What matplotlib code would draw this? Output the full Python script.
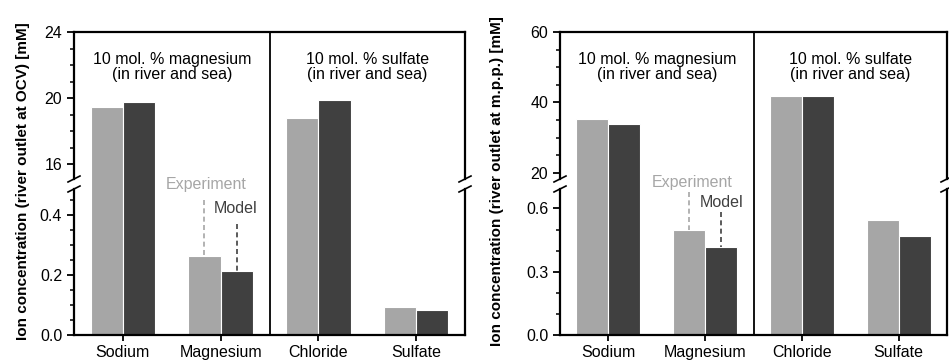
import numpy as np
import matplotlib
matplotlib.use("Agg")
import matplotlib.pyplot as plt
from matplotlib.lines import Line2D
from matplotlib.ticker import FixedLocator

plt.rcParams['font.family'] = ['Liberation Sans', 'DejaVu Sans']

ions = ['Sodium', 'Magnesium', 'Chloride', 'Sulfate']
# left panel: river outlet at OCV
ocv_exp = [19.45, 0.263, 18.79, 0.092]
ocv_model = [19.78, 0.213, 19.88, 0.082]
# right panel: river outlet at m.p.p.
mpp_exp = [35.4, 0.496, 41.7, 0.543]
mpp_model = [33.7, 0.417, 41.9, 0.468]

c_exp = '#a6a6a6'
c_mod = '#404040'
W, H = 949, 363

fig = plt.figure(figsize=(9.49, 3.63), dpi=100)


def px(x0, y0, x1, y1):
    # pixel box (top-left origin) -> figure fraction rect
    return [x0 / W, 1 - y1 / H, (x1 - x0) / W, (y1 - y0) / H]


def panel(xl, xr, exp, mod, top_lim, top_bound, top_major, top_minor,
          low_lim, low_bound, low_major, low_minor, ylabel, ylab_x, annot):
    ax_t = fig.add_axes(px(xl, 32, xr, 184))
    ax_b = fig.add_axes(px(xl, 184, xr, 335))
    x = np.arange(len(ions))
    w = 0.33
    for ax in (ax_t, ax_b):
        ax.bar(x - w / 2, exp, w, color=c_exp, edgecolor='white', linewidth=0.8)
        ax.bar(x + w / 2, mod, w, color=c_mod, edgecolor='white', linewidth=0.8)
        ax.set_xlim(-0.5, 3.5)
        ax.axvline(1.5, color='black', lw=1.3)
        for s in ax.spines.values():
            s.set_linewidth(1.6)
        ax.tick_params(axis='y', which='major', direction='out', length=5,
                       width=1.3, labelsize=11.5)
        ax.tick_params(axis='y', which='minor', direction='out', length=3,
                       width=1.1)
        ax.tick_params(right=False, top=False)
    ax_t.set_ylim(*top_lim)
    ax_t.spines['bottom'].set_visible(False)
    ax_t.spines['left'].set_bounds(top_bound, top_lim[1])
    ax_t.spines['right'].set_bounds(top_bound, top_lim[1])
    ax_t.yaxis.set_major_locator(FixedLocator(top_major))
    ax_t.yaxis.set_minor_locator(FixedLocator(top_minor))
    ax_t.set_xticks([])

    ax_b.set_ylim(*low_lim)
    ax_b.spines['top'].set_visible(False)
    ax_b.spines['left'].set_bounds(low_lim[0], low_bound)
    ax_b.spines['right'].set_bounds(low_lim[0], low_bound)
    ax_b.yaxis.set_major_locator(FixedLocator(low_major))
    ax_b.yaxis.set_minor_locator(FixedLocator(low_minor))
    ax_b.set_yticklabels(['%.1f' % v for v in low_major])
    ax_b.set_xticks(x)
    ax_b.set_xticklabels(ions, fontsize=11.5)
    ax_b.tick_params(axis='x', direction='out', length=4, width=1.3, pad=3)

    # break marks on left and right spines
    for xs in (xl, xr):
        for ys in (179, 189):
            fig.add_artist(Line2D([(xs - 6) / W, (xs + 6) / W],
                                  [1 - (ys + 3) / H, 1 - (ys - 3) / H],
                                  color='black', lw=1.2))

    ty = top_lim[0] + 0.77 * (top_lim[1] - top_lim[0])
    ax_t.text(0.5, ty, '10 mol. % magnesium\n(in river and sea)',
              fontsize=11.5, ha='center', va='center', linespacing=1.0)
    ax_t.text(2.5, ty, '10 mol. % sulfate\n(in river and sea)',
              fontsize=11.5, ha='center', va='center', linespacing=1.0)

    (ex_tx, ex_ty, ex_l0), (mo_tx, mo_ty, mo_l0) = annot
    ax_b.text(ex_tx, ex_ty, 'Experiment', color=c_exp, fontsize=11.5,
              ha='center', va='center')
    ax_b.plot([1 - w / 2] * 2, [ex_l0, exp[1]], ls=(0, (3, 2)), color=c_exp, lw=1.2)
    ax_b.text(mo_tx, mo_ty, 'Model', color=c_mod, fontsize=11.5,
              ha='center', va='center')
    ax_b.plot([1 + w / 2] * 2, [mo_l0, mod[1]], ls=(0, (3, 2)), color=c_mod, lw=1.2)

    fig.text(ylab_x / W, 1 - 181 / H, ylabel, rotation=90, fontsize=11,
             fontweight='bold', ha='center', va='center')


panel(74, 465, ocv_exp, ocv_model,
      (14.79, 24), 15.09, [16, 20, 24], [17, 18, 19, 21, 22, 23],
      (0, 0.503), 0.487, [0.0, 0.2, 0.4],
      [0.05, 0.1, 0.15, 0.25, 0.3, 0.35, 0.45],
      'Ion concentration (river outlet at OCV) [mM]', 23,
      ((0.856, 0.50, 0.45), (1.154, 0.42, 0.37)))

panel(560, 947, mpp_exp, mpp_model,
      (16.78, 60), 18.2, [20, 40, 60], [25, 30, 35, 45, 50, 55],
      (0, 0.716), 0.692, [0.0, 0.3, 0.6], [0.1, 0.2, 0.4, 0.5],
      'Ion concentration (river outlet at m.p.p.) [mM]', 497,
      ((0.864, 0.725, 0.678), (1.17, 0.626, 0.583)))

fig.savefig('out.png', dpi=100)
